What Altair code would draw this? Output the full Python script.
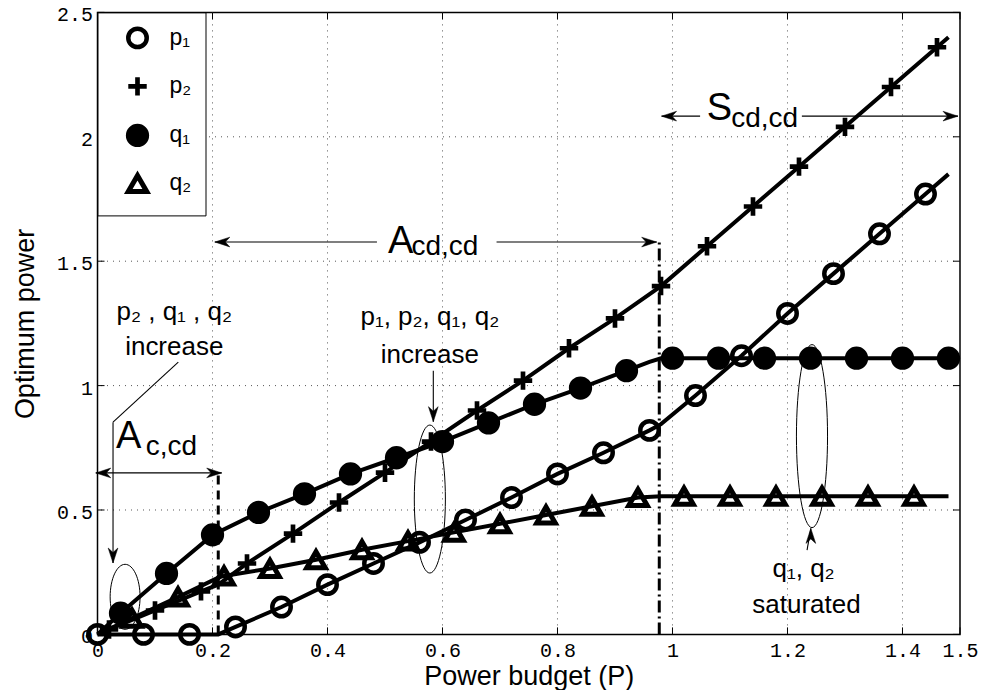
import altair as alt
import pandas as pd

# ---------------- data ----------------
series_names = ["p₁", "p₂", "q₁", "q₂"]

p1_x = [0.00, 0.08, 0.16, 0.24, 0.32, 0.40, 0.48, 0.56, 0.64, 0.72, 0.80, 0.88, 0.96, 1.04, 1.12, 1.20, 1.28, 1.36, 1.44]
p1_y = [0.00, 0.00, 0.00, 0.03, 0.11, 0.20, 0.285, 0.37, 0.46, 0.55, 0.645, 0.73, 0.82, 0.96, 1.12, 1.29, 1.45, 1.61, 1.77]
p1_kx = [0.21, 0.98, 1.48]
p1_ky = [0.00, 0.845, 1.85]

p2_x = [0.02, 0.10, 0.18, 0.26, 0.34, 0.42, 0.50, 0.58, 0.66, 0.74, 0.82, 0.90, 0.98, 1.06, 1.14, 1.22, 1.30, 1.38, 1.46]
p2_y = [0.02, 0.096, 0.173, 0.285, 0.405, 0.53, 0.65, 0.775, 0.90, 1.02, 1.15, 1.27, 1.40, 1.56, 1.72, 1.88, 2.04, 2.20, 2.36]
p2_kx = [0.00, 0.21, 1.48]
p2_ky = [0.00, 0.20, 2.40]

q1_x = [0.04, 0.12, 0.20, 0.28, 0.36, 0.44, 0.52, 0.60, 0.68, 0.76, 0.84, 0.92, 1.00, 1.08, 1.16, 1.24, 1.32, 1.40, 1.48]
q1_y = [0.085, 0.245, 0.40, 0.49, 0.565, 0.645, 0.71, 0.775, 0.85, 0.925, 0.99, 1.06, 1.11, 1.11, 1.11, 1.11, 1.11, 1.11, 1.11]
q1_kx = [0.00, 0.96, 0.98, 1.50]
q1_ky = [0.00, 1.095, 1.11, 1.11]

q2_x = [0.06, 0.14, 0.22, 0.30, 0.38, 0.46, 0.54, 0.62, 0.70, 0.78, 0.86, 0.94, 1.02, 1.10, 1.18, 1.26, 1.34, 1.42]
q2_y = [0.065, 0.15, 0.235, 0.265, 0.30, 0.34, 0.375, 0.41, 0.445, 0.48, 0.515, 0.55, 0.555, 0.555, 0.555, 0.555, 0.555, 0.555]
q2_kx = [0.00, 0.21, 0.98, 1.48]
q2_ky = [0.00, 0.228, 0.555, 0.555]

x_ticks = [0, 0.2, 0.4, 0.6, 0.8, 1.0, 1.2, 1.4, 1.5]
y_ticks = [0, 0.5, 1.0, 1.5, 2.0, 2.5]
x_grid = [0.2, 0.4, 0.6, 0.8, 1.0, 1.2, 1.4]
y_grid = [0.5, 1.0, 1.5, 2.0]

# annotation geometry (data coordinates)
seg_x1 = [-0.003, 0.204, 0.694, 0.981, 1.225, 0.1405, 0.027, 0.584, 1.234]
seg_y1 = [0.649, 1.577, 1.577, 2.083, 2.083, 1.094, 0.853, 1.06, 0.339]
seg_x2 = [0.216, 0.486, 0.9725, 1.048, 1.4965, 0.027, 0.027, 0.584, 1.2406]
seg_y2 = [0.649, 1.577, 1.577, 2.083, 2.083, 0.853, 0.287, 0.855, 0.426]

head_x = [-0.003, 0.216, 0.204, 0.9725, 0.981, 1.4965, 0.027, 0.584, 1.2406]
head_y = [0.649, 0.649, 1.577, 1.577, 2.083, 2.083, 0.287, 0.855, 0.426]
head_a = [180, 0, 180, 0, 180, 0, 90, 90, 270]

ell_x = [0.048, 0.578, 1.2426]
ell_y = [0.151, 0.544, 0.797]
ell_h = [65, 148, 183]
ell_ratio = [0.46, 0.21, 0.17]

dash1_x, dash1_y = [0.21], [0.64]
dash2_x, dash2_y = [0.977], [1.58]

big_text = ["A", "A", "S"]
big_x = [0.032, 0.505, 1.0595]
big_y = [0.748, 1.532, 2.069]
sub_text = ["c,cd", "cd,cd", "cd,cd"]
sub_x = [0.084, 0.546, 1.102]
sub_y = [0.721, 1.525, 2.039]

note_text = ["p₂ , q₁ , q₂", "increase", "p₁, p₂, q₁, q₂", "increase", "q₁,  q₂", "saturated"]
note_x = [0.1335, 0.1335, 0.578, 0.578, 1.228, 1.233]
note_y = [1.263, 1.123, 1.243, 1.09, 0.232, 0.086]

# ---------------- tables ----------------
rows_m, rows_l = [], []
for name, xs_, ys_, kx, ky in [
    (series_names[0], p1_x, p1_y, p1_kx, p1_ky),
    (series_names[1], p2_x, p2_y, p2_kx, p2_ky),
    (series_names[2], q1_x, q1_y, q1_kx, q1_ky),
    (series_names[3], q2_x, q2_y, q2_kx, q2_ky),
]:
    for x, y in zip(xs_, ys_):
        rows_m.append({"s": name, "x": x, "y": y})
    pts = sorted(set(zip(xs_, ys_)) | set(zip(kx, ky)))
    for i, (x, y) in enumerate(pts):
        rows_l.append({"s": name, "x": x, "y": y, "o": i})
markers = pd.DataFrame(rows_m)
lines = pd.DataFrame(rows_l)

segs = pd.DataFrame({"x": seg_x1, "y": seg_y1, "x2": seg_x2, "y2": seg_y2})
heads = pd.DataFrame({"x": head_x, "y": head_y, "a": head_a})
dash1 = pd.DataFrame({"x": dash1_x, "y": [0] * len(dash1_x), "y2": dash1_y})
dash2 = pd.DataFrame({"x": dash2_x, "y": [0] * len(dash2_x), "y2": dash2_y})
big = pd.DataFrame({"t": big_text, "x": big_x, "y": big_y})
sub = pd.DataFrame({"t": sub_text, "x": sub_x, "y": sub_y})
notes = pd.DataFrame({"t": note_text, "x": note_x, "y": note_y})
xt = pd.DataFrame({"v": x_ticks})
yt = pd.DataFrame({"v": y_ticks})
xg = pd.DataFrame({"v": x_grid})
yg = pd.DataFrame({"v": y_grid})

# ---------------- chart ----------------
W, H = 862.5, 622
FONT = "Liberation Sans"
MONO = "Liberation Mono"

xs = alt.Scale(domain=[0, 1.5], nice=False, zero=False)
ys = alt.Scale(domain=[0, 2.5], nice=False, zero=False)

x_axis = alt.Axis(values=x_ticks, format="~g", labelFont=MONO, labelFontSize=20, labelColor="black",
                  ticks=False, domain=False, grid=False, labelPadding=6, labelFlush=False,
                  labelOverlap=False, title="Power budget (P)", titleFont=FONT, titleFontSize=27,
                  titleFontWeight="normal", titleColor="black", titleBaseline="alphabetic", titleY=50)
y_axis = alt.Axis(values=y_ticks, format="~g", labelFont=MONO, labelFontSize=20, labelColor="black",
                  ticks=False, domain=False, grid=False, labelPadding=5, labelFlush=False,
                  labelOffset=2.5, labelOverlap=False, title="Optimum power", titleFont=FONT,
                  titleFontSize=27, titleFontWeight="normal", titleColor="black",
                  titleBaseline="alphabetic", titleAngle=270, titleX=-64)


def X(field="x"):
    return alt.X(f"{field}:Q", scale=xs, axis=x_axis)


def Y(field="y"):
    return alt.Y(f"{field}:Q", scale=ys, axis=y_axis)


grid_x = alt.Chart(xg).mark_rule(color="#555555", strokeWidth=1, strokeDash=[1, 5]).encode(x=X("v"))
grid_y = alt.Chart(yg).mark_rule(color="#555555", strokeWidth=1, strokeDash=[1, 5]).encode(y=Y("v"))

tick_b = alt.Chart(xt).mark_rule(color="black", strokeWidth=1).encode(
    x=X("v"), y=alt.value(H), y2=alt.value(H - 7))
tick_t = alt.Chart(xt).mark_rule(color="black", strokeWidth=1).encode(
    x=X("v"), y=alt.value(0), y2=alt.value(7))
tick_l = alt.Chart(yt).mark_rule(color="black", strokeWidth=1).encode(
    y=Y("v"), x=alt.value(0), x2=alt.value(7))
tick_r = alt.Chart(yt).mark_rule(color="black", strokeWidth=1).encode(
    y=Y("v"), x=alt.value(W - 7), x2=alt.value(W))

line_layer = alt.Chart(lines).mark_line(color="black", strokeWidth=4).encode(
    x=X(), y=Y(), detail="s:N", order="o:Q")

leg = alt.Legend(title=None, orient="top-left", offset=0, fillColor="white", strokeColor="black",
                 padding=14, symbolOffset=14, labelOffset=20, rowPadding=11, labelFont=FONT,
                 labelFontSize=23, labelColor="black",
                 symbolStrokeColor="black", labelBaseline="middle")

point_layer = alt.Chart(markers).mark_point(filled=True, opacity=1).encode(
    x=X(), y=Y(),
    shape=alt.Shape("s:N", scale=alt.Scale(domain=series_names,
                                           range=["circle", "M-1,0L1,0M0,-1L0,1", "circle", "triangle-up"]),
                    legend=leg),
    fill=alt.Fill("s:N", scale=alt.Scale(domain=series_names,
                                         range=["transparent", "transparent", "black", "transparent"]),
                  legend=leg),
    stroke=alt.Stroke("s:N", scale=alt.Scale(domain=series_names,
                                             range=["black", "black", "black", "black"]),
                      legend=leg),
    strokeWidth=alt.StrokeWidth("s:N", scale=alt.Scale(domain=series_names, range=[4.5, 5, 3, 4.5]),
                                legend=leg),
    size=alt.Size("s:N", scale=alt.Scale(domain=series_names, range=[340, 340, 150, 420]),
                  legend=leg),
)

dash1_layer = alt.Chart(dash1).mark_rule(color="black", strokeWidth=3, strokeDash=[9, 6]).encode(
    x=X(), y=Y(), y2="y2:Q")
dash2_layer = alt.Chart(dash2).mark_rule(color="black", strokeWidth=3, strokeDash=[12, 4, 2, 4]).encode(
    x=X(), y=Y(), y2="y2:Q")

seg_layer = alt.Chart(segs).mark_rule(color="black", strokeWidth=1.1).encode(
    x=X(), y=Y(), x2="x2:Q", y2="y2:Q")

head_layer = alt.Chart(heads).mark_point(
    shape="M0,0L-2,-0.65L-1.4,0L-2,0.65Z", filled=True, fill="black", stroke="black",
    strokeWidth=0.5, size=225, opacity=1).encode(
    x=X(), y=Y(), angle=alt.Angle("a:Q", scale=None))

ell_layers = []
for ex, ey, eh, er in zip(ell_x, ell_y, ell_h, ell_ratio):
    edf = pd.DataFrame({"x": [ex], "y": [ey]})
    ell_layers.append(
        alt.Chart(edf).mark_point(
            shape=f"M0,-1A{er},1 0 1,1 0,1A{er},1 0 1,1 0,-1Z", size=eh * eh,
            filled=False, stroke="black", strokeWidth=1, opacity=1).encode(x=X(), y=Y()))

big_layer = alt.Chart(big).mark_text(align="left", baseline="alphabetic", font=FONT, fontSize=38,
                                     color="black").encode(x=X(), y=Y(), text="t:N")
sub_layer = alt.Chart(sub).mark_text(align="left", baseline="alphabetic", font=FONT, fontSize=28,
                                     color="black").encode(x=X(), y=Y(), text="t:N")
note_layer = alt.Chart(notes).mark_text(align="center", baseline="alphabetic", font=FONT, fontSize=26,
                                        color="black").encode(x=X(), y=Y(), text="t:N")

chart = alt.layer(
    grid_x, grid_y, tick_b, tick_t, tick_l, tick_r,
    dash1_layer, dash2_layer, line_layer, point_layer,
    seg_layer, head_layer, *ell_layers, big_layer, sub_layer, note_layer,
).properties(
    width=W, height=H,
    autosize=alt.AutoSizeParams(type="none"),
    padding={"left": 89.5, "top": 4.4, "right": 19, "bottom": 55.5},
    background="white",
).configure_view(
    stroke="black", strokeWidth=1.5
)

chart.save("out.html", embed_options={"renderer": "svg", "actions": False})
